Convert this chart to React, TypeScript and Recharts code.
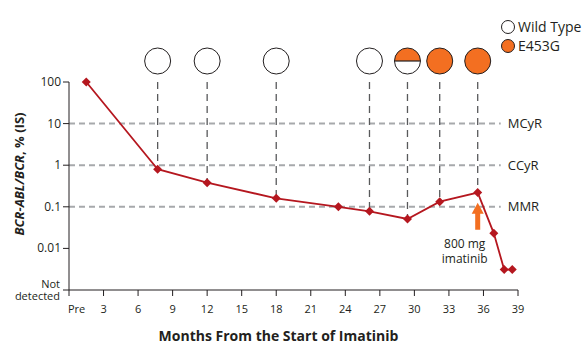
import React from 'react';
import { ComposedChart, Line, XAxis, YAxis, ReferenceLine, ReferenceDot } from 'recharts';

const months = [1.5, 7.7, 12, 18, 23.4, 26.1, 29.4, 32.2, 35.5, 36.9, 37.8, 38.5];
const ratios = [100, 0.8, 0.38, 0.16, 0.1, 0.078, 0.051, 0.133, 0.22, 0.023, 0.0031, 0.0031];

const mutationMonths = [7.7, 12, 18, 26.1, 29.4, 32.2, 35.5];
const mutationStatus = ['wild', 'wild', 'wild', 'wild', 'mixed', 'e453g', 'e453g'];

const responseLabels = ['MCyR', 'CCyR', 'MMR'];
const responseValues = [10, 1, 0.1];

const xTicks = [0, 3, 6, 9, 12, 15, 18, 21, 24, 27, 30, 33, 36, 39];
const yTicks = [0.001, 0.01, 0.1, 1, 10, 100];

const doseMonth = 35.5;
const doseText = ['800 mg', 'imatinib'];

const legendNames = ['Wild Type', 'E453G'];

const data = months.map((m, i) => ({ month: m, ratio: ratios[i] }));

const RED = '#b5171f';
const ORANGE = '#f36f21';
const FONT = "'Open Sans', sans-serif";
const INK = '#231f20';

const Diamond = (props: any) => {
  const { cx, cy } = props;
  if (cx == null || cy == null) return null;
  return <path d={`M${cx},${cy - 4.5}L${cx + 4.5},${cy}L${cx},${cy + 4.5}L${cx - 4.5},${cy}Z`} fill={RED} />;
};

const MutationCircle = (props: any) => {
  const { cx, status } = props;
  const cy = props.cy - 21;
  const r = 13;
  if (status === 'mixed') {
    return (
      <g>
        <circle cx={cx} cy={cy} r={r} fill="#fff" />
        <path d={`M${cx - r},${cy}A${r},${r} 0 0 1 ${cx + r},${cy}Z`} fill={ORANGE} />
        <line x1={cx - r} y1={cy} x2={cx + r} y2={cy} stroke={INK} strokeWidth={1.2} />
        <circle cx={cx} cy={cy} r={r} fill="none" stroke={INK} strokeWidth={1} />
      </g>
    );
  }
  return <circle cx={cx} cy={cy} r={r} fill={status === 'wild' ? '#fff' : ORANGE} stroke={INK} strokeWidth={1} />;
};

const DoseArrow = (props: any) => {
  const { cx, cy } = props;
  return (
    <g>
      <path d={`M${cx},${cy - 4}L${cx + 6},${cy + 7}L${cx + 2.5},${cy + 7}L${cx + 2.5},${cy + 23}L${cx - 2.5},${cy + 23}L${cx - 2.5},${cy + 7}L${cx - 6},${cy + 7}Z`} fill={ORANGE} />
      {doseText.map((t, i) => (
        <text key={t} x={cx - 13} y={cy + 41 + i * 15} textAnchor="middle" fontSize={12} fill={INK} fontFamily={FONT}>
          {t}
        </text>
      ))}
    </g>
  );
};

const XTick = (props: any) => {
  const { x, y, payload } = props;
  const pre = payload.value === 0;
  return (
    <text x={pre ? x - 1 : x} y={y} dy={10} textAnchor={pre ? 'start' : 'middle'} fontSize={11} fill={INK} fontFamily={FONT}>
      {pre ? 'Pre' : payload.value}
    </text>
  );
};

const YTick = (props: any) => {
  const { x, y, payload } = props;
  if (payload.value === 0.001) {
    return (
      <text x={x - 1} y={y} textAnchor="end" fontSize={11} fill={INK} fontFamily={FONT}>
        <tspan x={x - 1} dy={-2}>Not</tspan>
        <tspan x={x - 1} dy={12}>detected</tspan>
      </text>
    );
  }
  return (
    <text x={x} y={y} dy={4} textAnchor="end" fontSize={12} fill={INK} fontFamily={FONT}>
      {payload.value}
    </text>
  );
};

const YLabel = (props: any) => {
  const { viewBox } = props;
  const x = viewBox.x + 24;
  const y = viewBox.y + viewBox.height / 2 - 12;
  return (
    <text x={x} y={y} transform={`rotate(-90 ${x} ${y})`} textAnchor="middle" fontSize={13} fontWeight="bold" fill={INK} fontFamily={FONT}>
      <tspan fontStyle="italic">BCR-ABL/BCR</tspan>
      <tspan>, % (IS)</tspan>
    </text>
  );
};

const App: React.FC = () => {
  return (
    <div style={{ position: 'absolute', left: 0, top: 0, width: 585, height: 344, background: '#fff' }}>
      <ComposedChart width={585} height={344} data={data} margin={{ top: 82, right: 67, bottom: 0, left: 0 }}>
        <XAxis
          dataKey="month"
          type="number"
          domain={[0, 39]}
          ticks={xTicks}
          interval={0}
          height={54}
          tickSize={6}
          tickMargin={7}
          stroke={INK}
          tick={<XTick />}
          label={{ value: 'Months From the Start of Imatinib', position: 'insideBottom', offset: 3, dx: -15, fontSize: 14, fontWeight: 'bold', fill: INK, fontFamily: FONT }}
        />
        <YAxis
          dataKey="ratio"
          scale="log"
          domain={[0.001, 100]}
          ticks={yTicks}
          interval={0}
          width={69}
          tickSize={6}
          tickMargin={2}
          stroke={INK}
          tick={<YTick />}
          label={<YLabel />}
        />
        {responseValues.map((v, i) => (
          <ReferenceLine
            key={responseLabels[i]}
            segment={[{ x: 0, y: v }, { x: 37.5, y: v }]}
            stroke="#a7a9ac"
            strokeWidth={2}
            strokeDasharray="6 4"
            label={{ value: responseLabels[i], position: 'right', offset: 7, fontSize: 13, fill: INK, fontFamily: FONT }}
          />
        ))}
        {mutationMonths.map((m) => (
          <ReferenceLine
            key={`v${m}`}
            segment={[{ x: m, y: 100 }, { x: m, y: ratios[months.indexOf(m)] }]}
            stroke="#58595b"
            strokeWidth={1.3}
            strokeDasharray="7 5"
          />
        ))}
        <Line
          dataKey="ratio"
          type="linear"
          stroke={RED}
          strokeWidth={1.8}
          dot={<Diamond />}
          activeDot={false}
          isAnimationActive={false}
        />
        {mutationMonths.map((m, i) => (
          <ReferenceDot
            key={`c${m}`}
            x={m}
            y={100}
            ifOverflow="visible"
            shape={(p: any) => <MutationCircle {...p} status={mutationStatus[i]} />}
          />
        ))}
        <ReferenceDot x={doseMonth} y={0.1} ifOverflow="visible" shape={(p: any) => <DoseArrow {...p} />} />
      </ComposedChart>
      <div style={{ position: 'absolute', left: 500, top: 17, fontFamily: FONT, fontSize: 14, color: INK, lineHeight: '19px' }}>
        {legendNames.map((name, i) => (
          <div key={name} style={{ display: 'flex', alignItems: 'center' }}>
            <svg width={16} height={16} style={{ marginRight: 2 }}>
              <circle cx={8} cy={8} r={6.5} fill={i === 0 ? '#fff' : ORANGE} stroke={INK} strokeWidth={1} />
            </svg>
            <span>{name}</span>
          </div>
        ))}
      </div>
    </div>
  );
};

export default App;
